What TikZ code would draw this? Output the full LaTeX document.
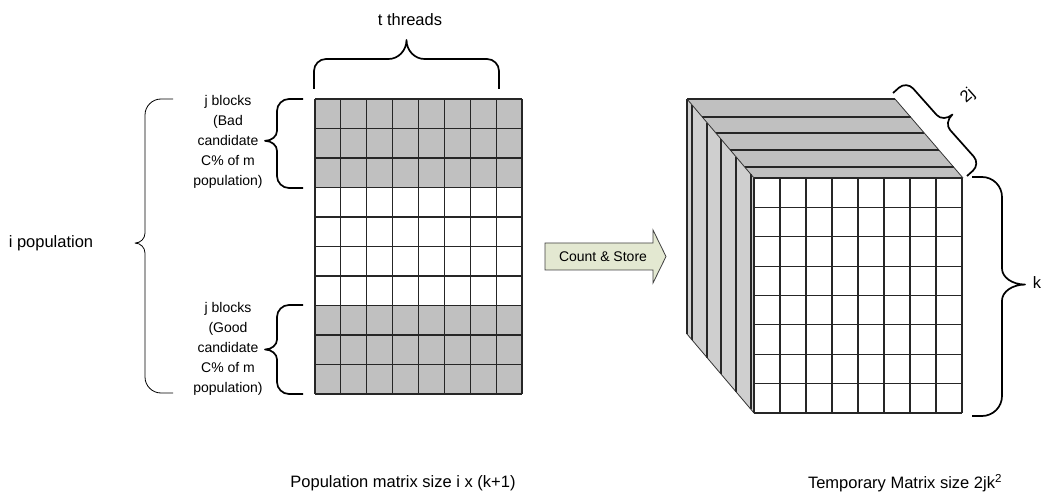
\documentclass[tikz,border=0pt]{standalone}
\usepackage{fontspec}
\setmainfont{Liberation Sans}
\definecolor{cellgray}{HTML}{C0C0C0}
\definecolor{sidegray}{HTML}{CFCFCF}
\definecolor{arrowfill}{HTML}{E3E8D1}
\newcommand{\Brace}[9][]{%
  \begin{scope}[shift={(#2)},rotate=#3]
    \pgfmathsetmacro{\bT}{#4*#5}%
    \pgfmathsetmacro{\bM}{#7+#8}%
    \pgfmathsetmacro{\bQ}{\bM+0.45*(#6-\bM)}%
    \draw[#1] (0,0) -- (0,-#7)
      .. controls (0,{-(#7+0.55*#8)}) and ({0.45*#8},-\bM) .. (#8,-\bM)
      -- ({\bT-#9},-\bM)
      .. controls ({\bT-0.45*#9},-\bM) and (\bT,-\bQ) .. (\bT,-#6)
      .. controls (\bT,-\bQ) and ({\bT+0.45*#9},-\bM) .. ({\bT+#9},-\bM)
      -- ({#4-#8},-\bM)
      .. controls ({#4-0.45*#8},-\bM) and (#4,{-(#7+0.55*#8)}) .. (#4,-#7) -- (#4,0);
  \end{scope}}
\begin{document}
\begin{tikzpicture}[x=1pt,y=-1pt,
  cellline/.style={draw=black!85, line width=1.05pt},
  slab/.style={draw=black!85, line width=1.6pt},
  edge/.style={draw=black!80, line width=0.8pt},
  thickbrace/.style={line width=1.7pt, black, line join=round},
  thinbrace/.style={line width=0.8pt, black, line join=round},
  lbl/.style={font=\fontsize{14}{20}\selectfont, align=center, inner sep=0pt},
  big/.style={font=\fontsize{16.5}{19}\selectfont, inner sep=0pt}]
\useasboundingbox (0,0) rectangle (1046,502);

% ---------- population matrix ----------
\fill[cellgray] (315,99) rectangle (522,187.5);
\fill[cellgray] (315,305.5) rectangle (522,394);
\foreach \i in {0,...,8} \draw[cellline] ({315+\i*25.875},99) -- ({315+\i*25.875},394);
\foreach \j in {0,...,10} \draw[cellline] (315,{99+\j*29.5}) -- (522,{99+\j*29.5});

% ---------- braces left ----------
\Brace[thickbrace]{314,89}{0}{185}{0.5}{49}{18}{12}{18}
\Brace[thickbrace]{303,188}{90}{89}{0.53}{38}{14}{12}{10}
\Brace[thickbrace]{303,394}{90}{89}{0.5}{38}{14}{12}{10}
\Brace[thinbrace]{173,393}{90}{294}{0.51}{38}{12}{16}{10}

\node[big] (tthreads) at (410,20) {t threads};
\node[lbl] (bad) at (228,142) {j blocks\\(Bad\\candidate\\C\% of m\\population)};
\node[lbl] (good) at (228,349) {j blocks\\(Good\\candidate\\C\% of m\\population)};
\node[big] (ipop) at (51,243) {i population};

% ---------- arrow ----------
\draw[fill=arrowfill, draw=black!75, line width=0.8pt]
  (545,243) -- (653,243) -- (653,230) -- (666,256.5) -- (653,283) -- (653,270) -- (545,270) -- cycle;
\node[font=\fontsize{14}{16}\selectfont, inner sep=0pt] (cs) at (603,257) {Count \& Store};

% ---------- cube ----------
\fill[sidegray] (687,99) -- (754,178) -- (754,413) -- (687,334) -- cycle;
\fill[cellgray] (687,99) -- (895,99) -- (963,178) -- (754,178) -- cycle;
\foreach \x in {687,692,707,721,736,751}
  \draw[slab] (\x,{99+(\x-687)*79/67}) -- (\x,{334+(\x-687)*79/67});
\foreach \y in {117,133,150,167}
  \draw[slab] ({687+(\y-99)*67/79},\y) -- ({895+(\y-99)*68/79},\y);
\draw[slab] (687,99) -- (895,99);
\draw[edge] (895,99) -- (963,178);
\draw[edge] (687,99) -- (754,178);
\draw[edge] (687,334) -- (754,413);
\fill[white] (754,178) rectangle (962,413);
\foreach \i in {0,...,8} \draw[cellline] ({754+\i*26},178) -- ({754+\i*26},413);
\foreach \j in {0,...,8} \draw[cellline] (754,{178+\j*29.375}) -- (962,{178+\j*29.375});

\Brace[thickbrace]{972,177}{-90}{239}{0.45}{53}{10}{20}{16}
\Brace[thickbrace]{893,93}{-48.3}{111.2}{0.5}{30}{8}{10}{10}
\node[big] (k) at (1037,283) {k};
\node[big, rotate=42] (twoj) at (968,96) {2j};

% ---------- captions ----------
\node[big] (cap1) at (403,483) {Population matrix size i x (k+1)};
\node[big] (cap2) at (905,483) {Temporary Matrix size 2jk\textsuperscript{2}};
\end{tikzpicture}
\end{document}
